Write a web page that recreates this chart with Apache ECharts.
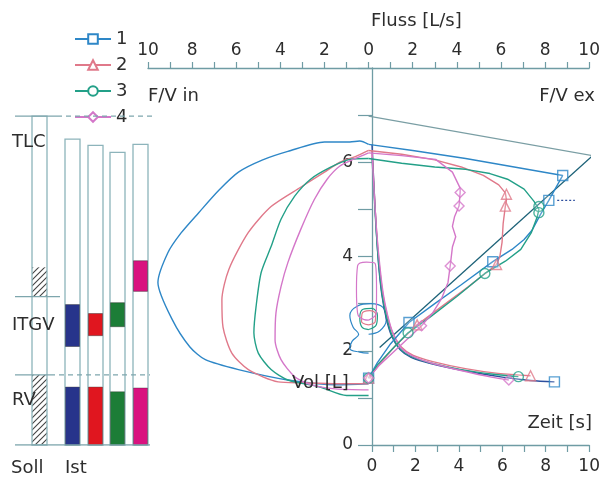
<!DOCTYPE html>
<html><head><meta charset="utf-8">
<script src="https://cdn.jsdelivr.net/npm/echarts@6/dist/echarts.min.js"></script>
<style>html,body{margin:0;padding:0;background:#fff}#c{width:603px;height:481px}</style>
</head><body><div id="c"></div>
<script>
// ---------------- data ----------------
const names = ['1', '2', '3', '4'];
// inspiratory flow-volume curves [flow (neg = in), volume]
const insp1 = [[0,1.3],[-1.43,1.28],[-3.66,1.38],[-5.9,1.6],[-7.4,1.81],[-8.1,2.08],[-8.9,2.66],[-9.55,3.45],[-9.1,4.08],[-8.5,4.5],[-7.7,4.93],[-6.8,5.4],[-5.9,5.79],[-4.8,6.05],[-3.66,6.23],[-2.0,6.43],[-0.85,6.43],[-0.4,6.45],[0,6.38]];
const insp2 = [[0,1.3],[-1.4,1.3],[-3.0,1.32],[-4.1,1.34],[-5.45,1.6],[-6.2,1.95],[-6.6,2.5],[-6.65,3.08],[-6.34,3.72],[-5.45,4.51],[-4.42,5.06],[-3.08,5.47],[-2.0,5.79],[-1.3,6.0],[-0.6,6.12],[0,6.25]];
const insp3 = [[0,1.05],[-1.0,1.05],[-2.2,1.23],[-3.66,1.38],[-4.42,1.6],[-5.0,1.95],[-5.2,2.38],[-5.1,2.94],[-4.87,3.66],[-4.42,4.21],[-3.97,4.79],[-3.35,5.28],[-2.63,5.64],[-1.74,5.89],[-0.85,6.06],[0,6.08]];
const insp4 = [[0,1.17],[-1.5,1.19],[-2.63,1.28],[-3.35,1.45],[-3.97,1.81],[-4.24,2.23],[-4.2,2.8],[-3.97,3.36],[-3.66,3.87],[-3.08,4.57],[-2.46,5.21],[-1.88,5.64],[-1.3,5.92],[-0.6,6.08],[0,6.2]];
// expiratory flow-volume curves
const exp1 = [[0,6.38],[2,6.25],[4.4,6.08],[6.6,5.9],[8.8,5.72],[8.17,5.19],[7.8,4.9],[7.4,4.55],[7.05,4.36],[6.5,4.15],[5.63,3.89],[4.2,3.4],[3,3.0],[1.83,2.6],[1.0,2.15],[0.4,1.75],[0,1.42]];
const exp2 = [[0,6.25],[1.5,6.17],[3,6.05],[4.2,5.9],[5.2,5.72],[5.9,5.52],[6.2,5.35],[6.25,5.2],[6.2,5.07],[6.1,4.7],[6.05,4.3],[5.95,4.0],[5.8,3.83],[4.5,3.35],[3.2,2.9],[2.2,2.55],[1.2,2.1],[0.5,1.72],[0,1.42]];
const exp3 = [[0,6.08],[1.5,5.98],[3,5.9],[4.4,5.85],[5.5,5.76],[6.3,5.64],[7.05,5.43],[7.5,5.17],[7.72,5.0],[7.65,4.85],[7.37,4.5],[6.9,4.15],[6.2,3.9],[5.27,3.64],[4,3.15],[2.8,2.72],[1.79,2.38],[1,2.0],[0.4,1.7],[0,1.42]];
const exp4 = [[0,6.2],[1.5,6.14],[3.04,6.06],[3.8,5.79],[4.15,5.45],[4.15,5.36],[4.1,5.07],[3.9,4.85],[3.8,4.64],[3.95,4.42],[3.8,4.2],[3.7,3.8],[3.6,3.45],[3.3,3.1],[2.9,2.8],[2.4,2.53],[1.3,2.05],[0.5,1.7],[0,1.42]];
// marked points on the expiratory curves
const exp1Marks = [[8.8,5.72],[8.17,5.19],[5.63,3.89],[1.83,2.6],[0,1.42]];
const exp2Marks = [[6.25,5.32],[6.2,5.07],[5.8,3.83],[2.2,2.55],[0,1.42]];
const exp3Marks = [[7.72,5.06],[7.72,4.93],[5.27,3.64],[1.79,2.38],[0,1.42]];
const exp4Marks = [[4.15,5.36],[4.1,5.07],[3.7,3.8],[2.4,2.53],[0,1.42]];
// tidal breathing loops
const tidal1 = [[0,2.35],[0.5,2.42],[0.8,2.65],[0.65,2.92],[0.1,3.0],[-0.5,2.95],[-0.85,2.75],[-0.7,2.5],[-0.45,2.35],[-0.75,2.2],[-0.85,2.05],[-0.4,1.97],[0,1.95]];
const tidal2 = [[0,2.55],[0.3,2.62],[0.32,2.78],[0.05,2.85],[-0.3,2.78],[-0.32,2.62],[0,2.55]];
const tidal3 = [[0,2.45],[0.35,2.55],[0.4,2.75],[0.15,2.9],[-0.25,2.88],[-0.4,2.7],[-0.3,2.5],[0,2.45]];
const tidal4 = [[0,2.65],[0.35,2.8],[0.36,3.3],[0.3,3.85],[-0.1,3.88],[-0.5,3.8],[-0.55,3.3],[-0.5,2.8],[-0.2,2.66],[0,2.65]];
// volume-time curves [time s, volume L]
const vt1 = [[0,6.38],[0.08,5.6],[0.18,4.7],[0.3,3.85],[0.45,3.2],[0.65,2.7],[0.9,2.32],[1.3,2.02],[1.8,1.86],[2.7,1.73],[4.2,1.58],[6.0,1.44],[7.3,1.37],[8.4,1.34]];
const vt2 = [[0,6.25],[0.1,5.4],[0.2,4.6],[0.33,3.85],[0.5,3.2],[0.7,2.75],[0.95,2.38],[1.35,2.08],[1.9,1.9],[2.8,1.77],[4.3,1.62],[5.8,1.52],[7.3,1.47]];
const vt3 = [[0,6.1],[0.1,5.3],[0.2,4.5],[0.32,3.8],[0.48,3.15],[0.68,2.7],[0.92,2.33],[1.3,2.04],[1.85,1.87],[2.7,1.74],[4.1,1.6],[5.6,1.5],[6.74,1.45]];
const vt4 = [[0,6.2],[0.1,5.35],[0.22,4.5],[0.36,3.8],[0.52,3.2],[0.72,2.75],[0.97,2.37],[1.35,2.06],[1.9,1.88],[2.8,1.73],[4.2,1.57],[5.5,1.44],[6.3,1.38]];
const vt1End = [[8.4,1.34]], vt2End = [[7.3,1.47]], vt3End = [[6.74,1.45]], vt4End = [[6.3,1.38]];
// reference lines
const guideUpper = [[0,6.98],[10.3,6.13]];
const guideSlope = [[0.5,2.07],[10.3,6.2]];
const pefDash = [[8.55,5.19],[9.35,5.19]];
// lung volumes (L): predicted (Soll) and measured (Ist)
const tlcSoll = 6.98, itgvSoll = 3.15, itgvSollUpper = 3.77, rvSoll = 1.49;
const tlcIst = [6.49, 6.36, 6.21, 6.38];
const itgvIstLow = [2.09, 2.32, 2.51, 3.26];
const itgvIstHigh = [2.98, 2.79, 3.02, 3.91];
const rvIst = [1.23, 1.23, 1.13, 1.21];
const flowLabels = ['10','8','6','4','2','0','2','4','6','8','10'];

// ---------------- styles / layout ----------------
const FONT = 'DejaVu Sans';
const TXT = '#2d2d2d';
const AX = '#6f9ca4';
const C = ['#2e87c7', '#e0798a', '#23a088', '#d477c9'];
const BARC = ['#27348b', '#e0161f', '#1c7d37', '#d9127f'];
const SYM = ['rect', 'triangle', 'circle', 'diamond'];
const SYMEMPTY = ['emptyRect', 'emptyTriangle', 'emptyCircle', 'emptyDiamond'];
const sollX0 = 32, sollX1 = 47;
const istX = [72.5, 95.5, 117.5, 140.5];
const barHalf = 7.5;

const hatch = document.createElement('canvas');
hatch.width = 6; hatch.height = 6;
(function () {
  const g = hatch.getContext('2d');
  g.strokeStyle = '#444'; g.lineWidth = 1.1;
  g.beginPath();
  g.moveTo(0, 6); g.lineTo(6, 0);
  g.moveTo(-1, 1); g.lineTo(1, -1);
  g.moveTo(5, 7); g.lineTo(7, 5);
  g.stroke();
})();
const hatchFill = { image: hatch, repeat: 'repeat' };

function rectRender(fillFn, stroke, lw) {
  return function (params, api) {
    const x0 = api.value(0), x1 = api.value(1), y0 = api.value(2), y1 = api.value(3);
    const p0 = api.coord([x0, y1]);
    const p1 = api.coord([x1, y0]);
    return {
      type: 'rect',
      shape: { x: p0[0], y: p0[1], width: p1[0] - p0[0], height: p1[1] - p0[1] },
      style: { fill: fillFn(params.dataIndex), stroke: stroke, lineWidth: lw }
    };
  };
}

const inspAll = [insp1, insp2, insp3, insp4];
const expAll = [exp1, exp2, exp3, exp4];
const marksAll = [exp1Marks, exp2Marks, exp3Marks, exp4Marks];
const tidalAll = [tidal1, tidal2, tidal3, tidal4];
const vtAll = [vt1, vt2, vt3, vt4];
const vtEndAll = [vt1End, vt2End, vt3End, vt4End];

const series = [];
// primary (legend) series: expiratory curves
for (let i = 0; i < 4; i++) {
  series.push({
    type: 'line', name: names[i], xAxisIndex: 0, yAxisIndex: 0, data: expAll[i],
    symbol: SYMEMPTY[i], symbolSize: 10, showSymbol: false, silent: true,
    lineStyle: { color: C[i], width: 1.4 }, itemStyle: { color: C[i] }, z: 4
  });
}
for (let i = 0; i < 4; i++) {
  series.push({
    type: 'line', name: 'in' + i, xAxisIndex: 0, yAxisIndex: 0, data: inspAll[i],
    symbol: 'none', smooth: 0.25, silent: true,
    lineStyle: { color: C[i], width: 1.4 }, z: 3
  });
  series.push({
    type: 'line', name: 'td' + i, xAxisIndex: 0, yAxisIndex: 0, data: tidalAll[i],
    symbol: 'none', smooth: 0.4, silent: true,
    lineStyle: { color: C[i], width: 1.2 }, z: 3
  });
  series.push({
    type: 'line', name: 'vt' + i, xAxisIndex: 1, yAxisIndex: 1, data: vtAll[i],
    symbol: 'none', smooth: 0.3, silent: true,
    lineStyle: { color: i === 0 ? '#2d4f9e' : C[i], width: 1.4 }, z: 3
  });
  series.push({
    type: 'scatter', name: 'mk' + i, xAxisIndex: 0, yAxisIndex: 0, data: marksAll[i],
    symbol: SYM[i], symbolSize: 10, silent: true,
    itemStyle: { color: 'rgba(255,255,255,0.25)', borderColor: C[i], borderWidth: 1.4 }, z: 5
  });
  series.push({
    type: 'scatter', name: 've' + i, xAxisIndex: 1, yAxisIndex: 1, data: vtEndAll[i],
    symbol: SYM[i], symbolSize: 10, silent: true,
    itemStyle: { color: 'rgba(255,255,255,0.25)', borderColor: C[i], borderWidth: 1.4 }, z: 5
  });
}
series.push({ type: 'line', name: 'g1', xAxisIndex: 0, yAxisIndex: 0, data: guideUpper, symbol: 'none', clip: false, silent: true, lineStyle: { color: '#7a9ea4', width: 1.2 }, z: 2 });
series.push({ type: 'line', name: 'g2', xAxisIndex: 0, yAxisIndex: 0, data: guideSlope, symbol: 'none', clip: false, silent: true, lineStyle: { color: '#1d6278', width: 1.3 }, z: 2 });
series.push({ type: 'line', name: 'g3', xAxisIndex: 0, yAxisIndex: 0, data: pefDash, symbol: 'none', silent: true, lineStyle: { color: '#2d4f9e', width: 1.2, type: [2, 2] }, z: 2 });

// ---- left panel (lung volume bars) ----
series.push({
  type: 'custom', name: 'istOutline', xAxisIndex: 2, yAxisIndex: 2, silent: true, z: 2,
  renderItem: rectRender(() => '#fff', '#8db4bb', 1.3),
  data: tlcIst.map((v, i) => [istX[i] - barHalf, istX[i] + barHalf, 0, v])
});
series.push({
  type: 'custom', name: 'istItgv', xAxisIndex: 2, yAxisIndex: 2, silent: true, z: 3,
  renderItem: rectRender(i => BARC[i], 'rgba(40,40,40,0.55)', 0.8),
  data: itgvIstLow.map((v, i) => [istX[i] - barHalf + 0.5, istX[i] + barHalf - 0.5, v, itgvIstHigh[i]])
});
series.push({
  type: 'custom', name: 'istRv', xAxisIndex: 2, yAxisIndex: 2, silent: true, z: 3,
  renderItem: rectRender(i => BARC[i], 'rgba(40,40,40,0.45)', 0.8),
  data: rvIst.map((v, i) => [istX[i] - barHalf + 0.5, istX[i] + barHalf - 0.5, 0, v])
});
series.push({
  type: 'custom', name: 'sollHatch', xAxisIndex: 2, yAxisIndex: 2, silent: true, z: 2,
  renderItem: rectRender(() => hatchFill, null, 0),
  data: [[sollX0, sollX1, itgvSoll, itgvSollUpper], [sollX0, sollX1, 0, rvSoll]]
});
series.push({
  type: 'custom', name: 'sollCol', xAxisIndex: 2, yAxisIndex: 2, silent: true, z: 3,
  renderItem: rectRender(() => 'none', '#8db4bb', 1.3),
  data: [[sollX0, sollX1, 0, tlcSoll]]
});
const refLine = (pts, dashed) => ({
  type: 'line', xAxisIndex: 2, yAxisIndex: 2, data: pts, symbol: 'none', silent: true, z: 4,
  lineStyle: { color: '#7ea6ad', width: 1.3, type: dashed ? [5, 4] : 'solid' }
});
series.push(refLine([[15, tlcSoll], [57, tlcSoll]], false));
series.push(refLine([[57, tlcSoll], [152, tlcSoll]], true));
series.push(refLine([[15, itgvSoll], [60, itgvSoll]], false));
series.push(refLine([[15, rvSoll], [50, rvSoll]], false));
series.push(refLine([[50, rvSoll], [150, rvSoll]], true));
series.push(refLine([[15, 0], [150, 0]], false));

const T = (text, x, y, align) => ({
  type: 'text', x: x, y: y, z: 10, silent: true,
  style: { text: text, fill: TXT, fontSize: 18, fontFamily: FONT, align: align || 'left', verticalAlign: 'middle' }
});

const chart = echarts.init(document.getElementById('c'), null, { renderer: 'canvas' });
chart.setOption({
  animation: false,
  backgroundColor: '#fff',
  grid: [
    { left: 148, right: 7, top: 68, bottom: 36 },
    { left: 372, right: 7, top: 68, bottom: 36 },
    { left: 0, width: 160, top: 68, bottom: 36 }
  ],
  xAxis: [
    {
      gridIndex: 0, type: 'value', position: 'top', min: -10, max: 10, interval: 1,
      axisLine: { show: true, onZero: false, lineStyle: { color: AX, width: 1.3 } },
      axisTick: { show: true, length: 6, lineStyle: { color: AX, width: 1.2 } },
      axisLabel: { margin: 9, color: TXT, fontSize: 17, fontFamily: FONT,
        formatter: v => (v % 2 === 0 ? flowLabels[(v + 10) / 2] : '') },
      splitLine: { show: false }
    },
    {
      gridIndex: 1, type: 'value', position: 'bottom', min: 0, max: 10, interval: 1,
      axisLine: { show: true, onZero: false, lineStyle: { color: AX, width: 1.3 } },
      axisTick: { show: true, length: 7, lineStyle: { color: AX, width: 1.2 } },
      axisLabel: { margin: 13, color: TXT, fontSize: 17, fontFamily: FONT,
        formatter: v => (v % 2 === 0 ? String(v) : '') },
      splitLine: { show: false }
    },
    { gridIndex: 2, type: 'value', min: 0, max: 160, show: false, axisLine: { onZero: false } }
  ],
  yAxis: [
    { gridIndex: 0, type: 'value', min: 0, max: 8, show: false, axisLine: { onZero: false } },
    {
      gridIndex: 1, type: 'value', min: 0, max: 8, interval: 1,
      axisLine: { show: true, onZero: false, lineStyle: { color: AX, width: 1.3 } },
      axisTick: { show: true, length: 14, lineStyle: { color: AX, width: 1.2 } },
      axisLabel: { margin: 19, color: TXT, fontSize: 17, fontFamily: FONT,
        formatter: v => (v % 2 === 0 && v < 8 ? String(v) : '') },
      splitLine: { show: false }
    },
    { gridIndex: 2, type: 'value', min: 0, max: 8, show: false, axisLine: { onZero: false } }
  ],
  legend: {
    data: names, orient: 'vertical', left: 70, top: 26, itemWidth: 36, itemHeight: 12, itemGap: 8,
    selectedMode: false, backgroundColor: '#fff', padding: [4, 6, 2, 4],
    textStyle: { fontFamily: FONT, fontSize: 18, color: TXT, lineHeight: 17 }
  },
  graphic: [
    T('Fluss [L/s]', 371, 21), T('F/V in', 148, 96), T('F/V ex', 595, 96, 'right'),
    T('Zeit [s]', 592, 423, 'right'), T('Vol [L]', 292, 383),
    T('TLC', 12, 142), T('ITGV', 12, 325), T('RV', 12, 400), T('Soll', 11, 468), T('Ist', 65, 468)
  ],
  series: series
});
</script>
</body></html>
